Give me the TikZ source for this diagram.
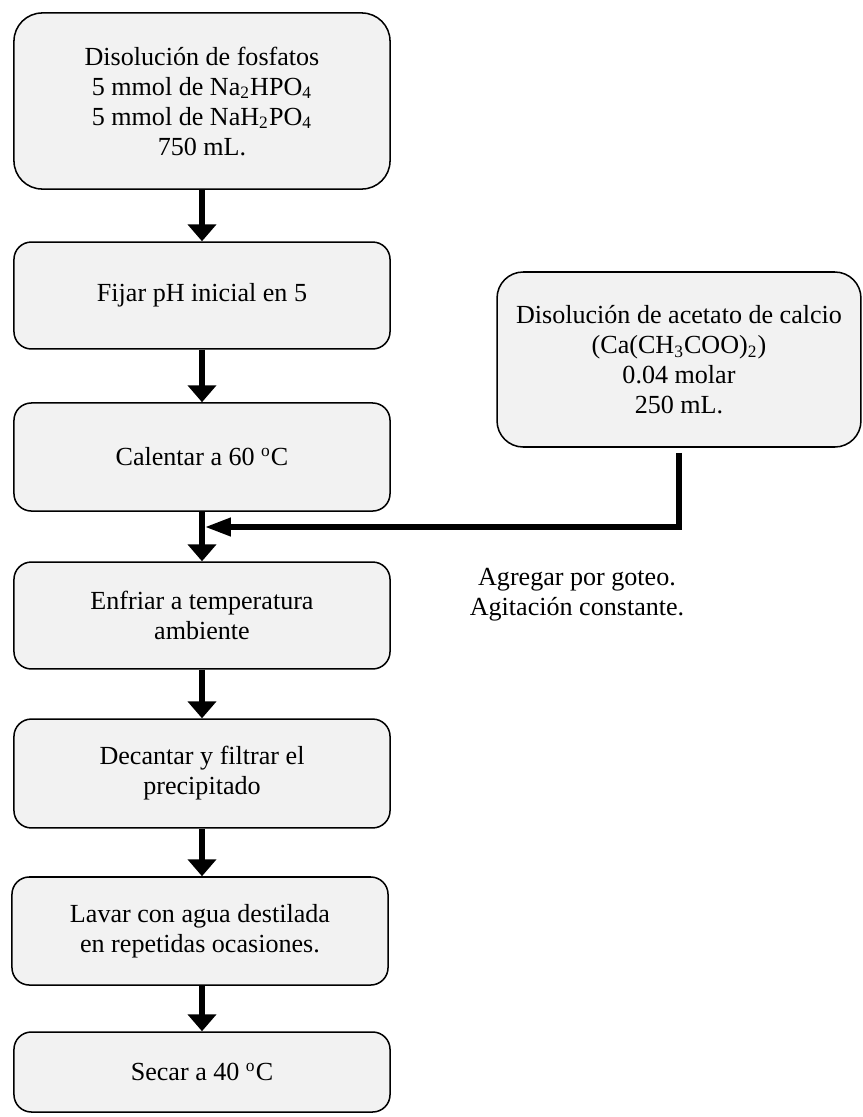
\documentclass[tikz,border=0pt]{standalone}
\usepackage{fontspec}
\setmainfont{Liberation Serif}
\usetikzlibrary{arrows.meta}
\definecolor{cajagris}{HTML}{F2F2F2}

\begin{document}
\begin{tikzpicture}[x=0.46pt,y=-0.46pt,
  every node/.style={align=center,font=\fontsize{12pt}{13.8pt}\selectfont},
  paso/.style={draw=black,line width=0.7pt,fill=cajagris,rounded corners=8pt,minimum width=173pt,inner sep=0pt},
  flecha/.style={line width=3pt,-{Triangle[width=12.9pt,length=7.8pt]}},
  goteo/.style={line width=3.2pt,line join=miter,-{Triangle[width=7.8pt,length=12.4pt]}}]
  \useasboundingbox (0,0) rectangle (863,1117);
  % columna principal
  \node[paso,rounded corners=13pt,minimum height=81pt] (fosfatos) at (202,101)
    {Disolución de fosfatos\\5 mmol de Na\textsubscript{2}HPO\textsubscript{4}\\5 mmol de NaH\textsubscript{2}PO\textsubscript{4}\\750 mL.};
  \node[paso,minimum height=49.2pt] (ph) at (202,295.5) {Fijar pH inicial en 5};
  \node[paso,minimum height=49.7pt] (calentar) at (202,457) {Calentar a 60 \textsuperscript{o}C};
  \node[paso,minimum height=49.2pt] (enfriar) at (202,615.5) {Enfriar a temperatura\\ambiente};
  \node[paso,minimum height=50.1pt] (decantar) at (202,773.5) {Decantar y filtrar el\\precipitado};
  \node[paso,minimum height=49.7pt] (lavar) at (200,931) {Lavar con agua destilada\\en repetidas ocasiones.};
  \node[paso,minimum height=36.8pt] (secar) at (202,1072) {Secar a 40 \textsuperscript{o}C};
  % disolucion de calcio
  \node[paso,rounded corners=12pt,minimum width=167.4pt,minimum height=80.5pt] (acetato) at (679,359.5)
    {Disolución de acetato de calcio\\(Ca(CH\textsubscript{3}COO)\textsubscript{2})\\0.04 molar\\250 mL.};
  \node (goteonota) at (577,595) {Agregar por goteo.\\Agitación constante.};
  \coordinate (union) at (204,527);
  \draw[flecha] (fosfatos) -- (ph);
  \draw[flecha] (ph) -- (calentar);
  \draw[flecha] (calentar) -- (enfriar);
  \draw[flecha] (enfriar) -- (decantar);
  \draw[flecha] (decantar.south) -- (decantar.south |- lavar.north);
  \draw[flecha] (lavar.south -| secar.north) -- (secar);
  \draw[goteo] ([yshift=-2.3pt]acetato.south) |- (union);
\end{tikzpicture}
\end{document}
